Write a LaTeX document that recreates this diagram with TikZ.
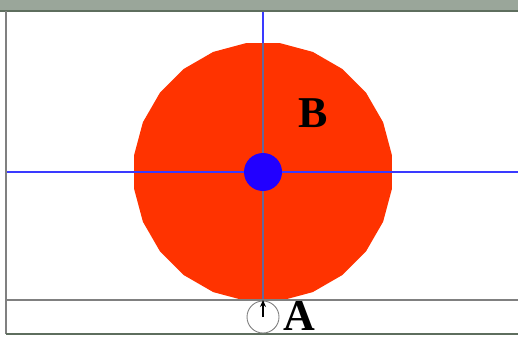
\documentclass[tikz,border=0pt]{standalone}
\usepackage{fontspec}
\setmainfont{Liberation Serif}
\usetikzlibrary{arrows.meta,shapes.geometric}
\definecolor{discred}{HTML}{FF3300}
\definecolor{hubblue}{HTML}{2200FF}
\definecolor{axisblue}{HTML}{3A3AFF}
\definecolor{frame}{HTML}{5E6E5E}
\definecolor{titlebar}{HTML}{9AA69A}

\begin{document}
\begin{tikzpicture}[
    x=1pt, y=-1pt,
    disc/.style={regular polygon, regular polygon sides=24, fill=discred, minimum size=260pt, inner sep=0pt},
    hub/.style={circle, fill=hubblue, minimum size=38pt, inner sep=0pt},
    pivot/.style={circle, draw=gray, line width=0.9pt, minimum size=32pt, inner sep=0pt},
    lbl/.style={font=\bfseries\fontsize{44}{44}\selectfont, inner sep=0pt},
    axis/.style={axisblue, line width=1.6pt},
    rail/.style={gray, line width=1.6pt},
    arr/.style={-{Stealth[length=7pt,width=6pt]}, line width=1.4pt}
  ]
  \useasboundingbox (0,0) rectangle (518,338);
  \fill[white] (0,0) rectangle (518,338);
  % window frame
  \fill[titlebar] (0,0) rectangle (518,11);
  \draw[frame, line width=1.5pt] (0,11) -- (518,11);
  \draw[gray, line width=2pt] (6,11) -- (6,334);
  \draw[frame, line width=2pt] (6,334) -- (518,334);
  \coordinate (top) at (263,12);
  \coordinate (west) at (7,172);
  \coordinate (east) at (518,172);
  \coordinate (railw) at (7,300);
  \coordinate (raile) at (518,300);
  % disc and axes
  \node[disc] (B) at (263,172) {};
  \draw[axis] (top) -- (B.north);
  \draw[rail, gray!80!blue] (B.north) -- (263,300);
  \draw[axis] (west) -- (east);
  \node[hub] (hub) at (B.center) {};
  \node[lbl] (labB) at (313,113) {B};
  % bottom bar
  \draw[rail] (railw) -- (raile);
  \node[pivot] (A) at (263,317) {};
  \draw[arr] (A.center) -- (A.center |- railw);
  \node[lbl] (labA) at (299,316) {A};
\end{tikzpicture}
\end{document}
